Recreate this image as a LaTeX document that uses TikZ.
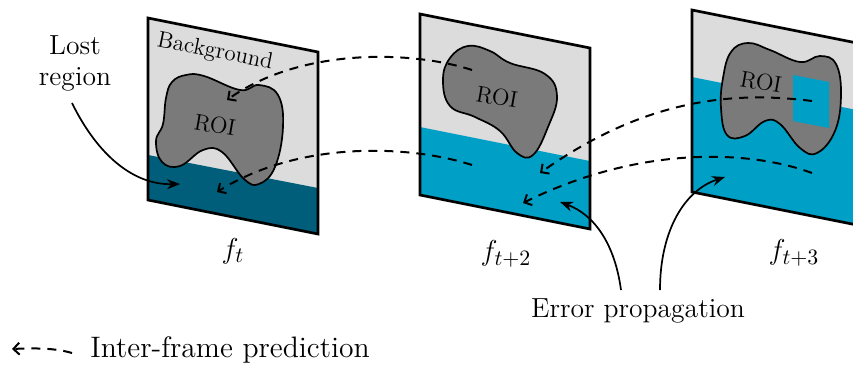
\documentclass[tikz,border=0pt]{standalone}
\usetikzlibrary{arrows.meta}
\definecolor{bggray}{RGB}{220,220,220}
\definecolor{roigray}{RGB}{122,122,122}
\definecolor{lostteal}{RGB}{0,94,122}
\definecolor{errblue}{RGB}{0,160,198}
\tikzset{
  framebox/.style={draw=black,line width=1.35pt,line join=miter},
  roiblob/.style={draw=black,line width=0.85pt,fill=roigray},
  predarrow/.style={line width=1pt,dash pattern=on 4.5pt off 3.5pt,-{Straight Barb[length=3pt,width=6pt]}},
  solidarrow/.style={line width=0.85pt,-{Stealth[length=6.5pt,width=5pt]}},
  smalltext/.style={font=\fontsize{11.5}{13}\selectfont,inner sep=0pt},
  bigtext/.style={font=\fontsize{13.8}{15.5}\selectfont,inner sep=1pt},
  labeltext/.style={font=\fontsize{15.5}{18}\selectfont,inner sep=1pt},
}
\begin{document}
\begin{tikzpicture}[x=0.5pt,y=-0.5pt]
\useasboundingbox (0,0) rectangle (853,365);
\clip (0,0) rectangle (853,365);

% ---------- Frame 1 ----------
\fill[bggray] (148,18) -- (318,52) -- (318,234) -- (148,200) -- cycle;
\fill[lostteal] (148,155) -- (318,188) -- (318,234) -- (148,200) -- cycle;
\draw[roiblob] plot[smooth cycle,tension=0.7] coordinates {
  (166,98) (172,82) (186,75) (204,76) (240,90) (259,85) (278,95) (283,127) (275,167)
  (259,184) (244,179) (222,152) (203,150) (180,166) (162,162) (156,141) (163,124)};
\draw[framebox] (148,18) -- (318,52) -- (318,234) -- (148,200) -- cycle;
\node[smalltext,rotate=-11.3] (bgtext) at (215,52) {Background};
\node[smalltext,rotate=-10] (roi1) at (215,125) {ROI};
\node[labeltext] (f1) at (233,251) {$f_t$};

% ---------- Frame 2 ----------
\fill[bggray] (420,14) -- (590,48) -- (590,229) -- (420,195) -- cycle;
\fill[errblue] (420,127) -- (590,161) -- (590,229) -- (420,195) -- cycle;
\draw[roiblob] plot[smooth cycle,tension=0.7] coordinates {
  (443,80) (450,58) (468,46) (490,51) (510,63) (545,74) (557,96) (548,127) (533,155)
  (517,153) (500,131) (475,117) (450,106)};
\draw[framebox] (420,14) -- (590,48) -- (590,229) -- (420,195) -- cycle;
\node[smalltext,rotate=-10] (roi2) at (497,97) {ROI};
\node[labeltext] (f2) at (506,254) {$f_{t+2}$};

% ---------- Frame 3 ----------
\fill[bggray] (692,10) -- (862,44) -- (862,226) -- (692,192) -- cycle;
\fill[errblue] (692,77) -- (862,111) -- (862,226) -- (692,192) -- cycle;
\draw[roiblob] plot[smooth cycle,tension=0.7] coordinates {
  (723,78) (731,52) (748,43) (770,50) (800,62) (820,56) (836,64) (841,95)
  (835,131) (817,153) (800,148) (780,124) (765,121) (745,136) (727,135) (721,108)};
\fill[errblue] (793,75) -- (829,82) -- (829,128) -- (793,121) -- cycle;
\draw[framebox] (692,10) -- (862,44) -- (862,226) -- (692,192) -- cycle;
\node[smalltext,rotate=-10] (roi3) at (761,82) {ROI};
\node[labeltext] (f3) at (794,253) {$f_{t+3}$};

% ---------- prediction arrows ----------
\coordinate (p1s) at (472,70);  \coordinate (p1e) at (227,100);
\coordinate (p2s) at (472,165); \coordinate (p2e) at (217,192);
\coordinate (p3s) at (812,101); \coordinate (p3e) at (540,173);
\coordinate (p4s) at (812,173); \coordinate (p4e) at (523,203);
\draw[predarrow] (p1s) .. controls (410,50) and (300,48) .. (p1e);
\draw[predarrow] (p2s) .. controls (410,145) and (300,140) .. (p2e);
\draw[predarrow] (p3s) .. controls (740,92) and (650,95) .. (p3e);
\draw[predarrow] (p4s) .. controls (750,150) and (640,145) .. (p4e);

% ---------- Lost region ----------
\node[bigtext,align=center] (lost) at (75,63) {Lost\\region};
\coordinate (lostst) at (72,103);
\coordinate (lostend) at (180,184);
\draw[solidarrow] (lostst) .. controls (95,150) and (130,185) .. (lostend);

% ---------- Error propagation ----------
\node[bigtext] (err) at (638,311) {Error propagation};
\coordinate (e1s) at (621,290); \coordinate (e1e) at (560,202);
\coordinate (e2s) at (660,290); \coordinate (e2e) at (725,177);
\draw[solidarrow] (e1s) .. controls (615,245) and (595,215) .. (e1e);
\draw[solidarrow] (e2s) .. controls (660,230) and (685,190) .. (e2e);

% ---------- Legend ----------
\coordinate (legs) at (72,353); \coordinate (lege) at (12,349);
\draw[predarrow] (legs) .. controls (55,348) and (35,348) .. (lege);
\node[font=\fontsize{14.8}{17}\selectfont,anchor=west,inner sep=0pt] (legtext) at (90,350) {Inter-frame prediction};
\end{tikzpicture}
\end{document}
